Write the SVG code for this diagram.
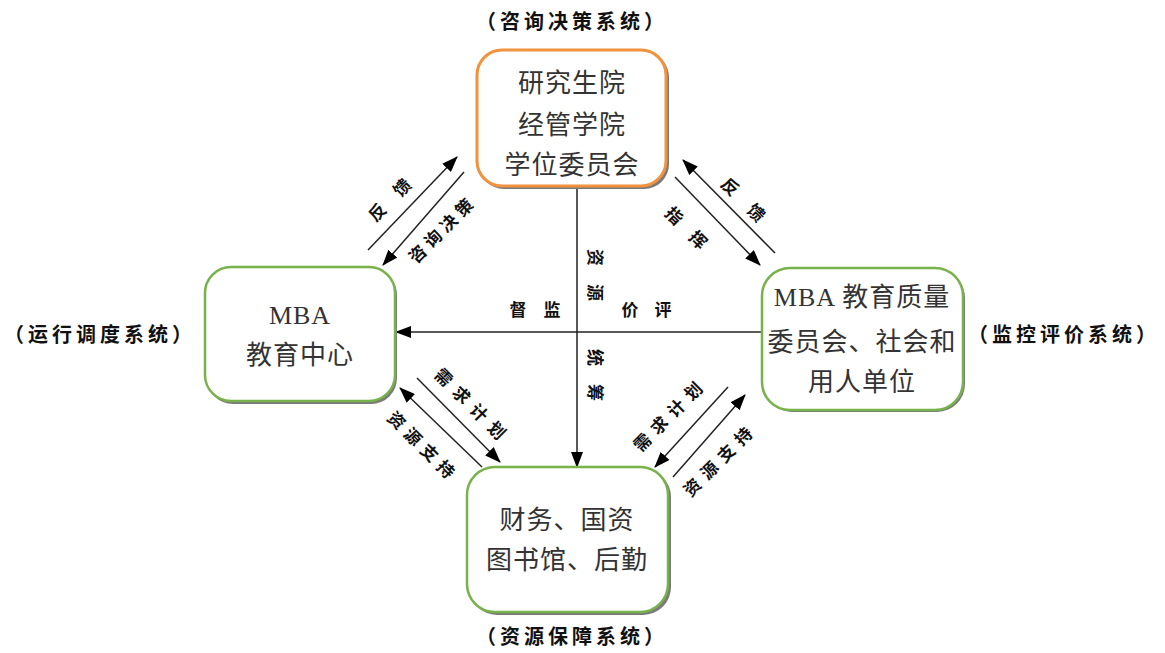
<svg xmlns="http://www.w3.org/2000/svg" width="1165" height="653" viewBox="0 0 1165 653">
<style>
.sys{font-family:"Noto Sans CJK SC",sans-serif;font-size:20px;font-weight:bold;fill:#111;letter-spacing:4px}
.nt{font-family:"Liberation Serif","Noto Sans CJK SC",serif;font-size:26px;fill:#333;letter-spacing:1px}
.lb{font-family:"Noto Sans CJK SC",sans-serif;font-size:17px;font-weight:bold;fill:#111}
.box{fill:#fff;stroke-width:3}
.org{stroke:#F0923E}
.grn{stroke:#78B24A;stroke-width:2.5}
.sh{fill:#7a7a7a}
.ln{stroke:#222;stroke-width:1.5;fill:none;marker-end:url(#ah)}
</style>
<defs>
<marker id="ah" markerUnits="userSpaceOnUse" markerWidth="16" markerHeight="12" refX="15" refY="6" orient="auto">
<path d="M0,0 L16,6 L0,12 Z" fill="#000"/>
</marker>
</defs>
<rect width="1165" height="653" fill="#fff"/>

<g id="connectors">
<line class="ln" x1="368" y1="250" x2="457" y2="157"/>
<line class="ln" x1="464" y1="172" x2="383" y2="265"/>
<line class="ln" x1="775" y1="253" x2="683" y2="160"/>
<line class="ln" x1="675" y1="177" x2="760" y2="265"/>
<line class="ln" x1="417" y1="378" x2="500" y2="462"/>
<line class="ln" x1="482" y1="467" x2="400" y2="388"/>
<line class="ln" x1="728" y1="387" x2="655" y2="467"/>
<line class="ln" x1="673" y1="477" x2="745" y2="395"/>
<line class="ln" x1="577" y1="188" x2="577" y2="467"/>
<line class="ln" x1="762" y1="332" x2="396" y2="332"/>

<g class="lb">
<text transform="translate(390,200) rotate(-45)" x="-26" y="6" letter-spacing="18">反馈</text>
<text transform="translate(441,231) rotate(-45)" x="-41.5" y="6" letter-spacing="5">咨询决策</text>
<text transform="translate(686,228) rotate(45)" x="-25.5" y="6" letter-spacing="17">指挥</text>
<text transform="translate(743,200) rotate(45)" x="-27" y="6" letter-spacing="20">反馈</text>
<text transform="translate(470,404) rotate(45)" x="-46" y="6" letter-spacing="8">需求计划</text>
<text transform="translate(421,445) rotate(45)" x="-43" y="6" letter-spacing="6">资源支持</text>
<text transform="translate(668,417) rotate(-45)" x="-44.5" y="6" letter-spacing="7">需求计划</text>
<text transform="translate(718,462) rotate(-45)" x="-44.5" y="6" letter-spacing="7">资源支持</text>
<text x="518" y="316" text-anchor="middle">督</text>
<text x="552" y="316" text-anchor="middle">监</text>
<text x="630" y="316" text-anchor="middle">价</text>
<text x="663" y="316" text-anchor="middle">评</text>
<text transform="translate(595,275) rotate(90)" x="-26" y="6" letter-spacing="18">资源</text>
<text transform="translate(595,375) rotate(90)" x="-26" y="6" letter-spacing="18">统筹</text>
</g>
</g>

<g id="node-top">
<rect class="sh" x="479" y="52" width="190" height="137" rx="25"/>
<rect class="box org" x="477" y="50" width="189" height="136" rx="25"/>
<text class="nt" x="572" y="92" text-anchor="middle">研究生院</text>
<text class="nt" x="572" y="134" text-anchor="middle">经管学院</text>
<text class="nt" x="572" y="174" text-anchor="middle">学位委员会</text>
</g>

<g id="node-left">
<rect class="sh" x="207" y="269" width="190" height="135" rx="26"/>
<rect class="box grn" x="205" y="267" width="190" height="134" rx="26"/>
<text class="nt" x="300" y="324" text-anchor="middle">MBA</text>
<text class="nt" x="300" y="364" text-anchor="middle">教育中心</text>
</g>

<g id="node-right">
<rect class="sh" x="764" y="270" width="201" height="142" rx="28"/>
<rect class="box grn" x="762" y="268" width="201" height="142" rx="28"/>
<text class="nt" x="862" y="306" text-anchor="middle">MBA 教育质量</text>
<text class="nt" x="862" y="351" text-anchor="middle" letter-spacing="0">委员会、社会和</text>
<text class="nt" x="862" y="391" text-anchor="middle">用人单位</text>
</g>

<g id="node-bottom">
<rect class="sh" x="469" y="469" width="202" height="146" rx="28"/>
<rect class="box grn" x="467" y="467" width="201" height="145" rx="28"/>
<text class="nt" x="567" y="529" text-anchor="middle">财务、国资</text>
<text class="nt" x="567" y="569" text-anchor="middle">图书馆、后勤</text>
</g>

<g id="labels">
<text class="sys" x="572" y="29" text-anchor="middle">（咨询决策系统）</text>
<text class="sys" x="100" y="342" text-anchor="middle">（运行调度系统）</text>
<text class="sys" x="1064" y="342" text-anchor="middle">（监控评价系统）</text>
<text class="sys" x="572" y="644" text-anchor="middle">（资源保障系统）</text>
</g>
</svg>
